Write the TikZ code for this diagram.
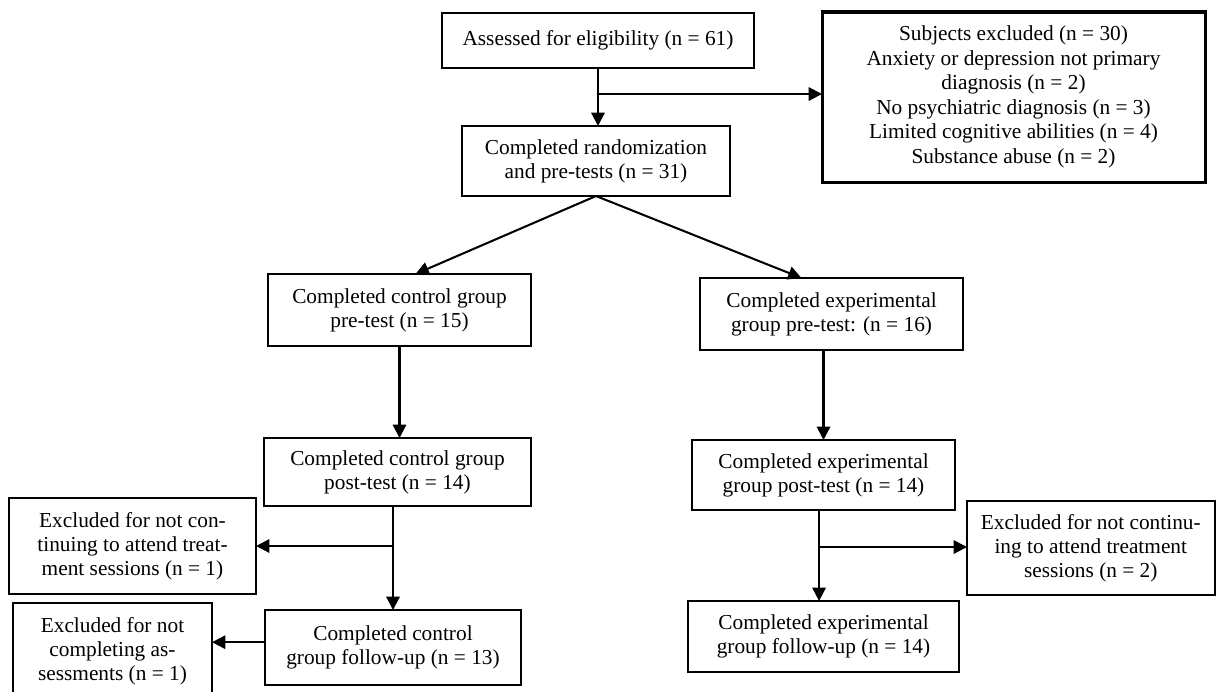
\documentclass[tikz,border=0pt]{standalone}
\usepackage{fontspec}
\setmainfont{Liberation Serif}
\usetikzlibrary{arrows.meta,calc}
\begin{document}
\begin{tikzpicture}[x=0.5625pt,y=-0.5625pt,
  box/.style={draw, line width=1.1pt, inner sep=0pt, outer sep=0pt, align=center,
    font=\fontsize{12pt}{13.4pt}\selectfont},
  thickbox/.style={box, line width=1.7pt, font=\fontsize{12pt}{13.8pt}\selectfont},
  arr/.style={-{Triangle[length=7.5pt,width=7.5pt]}, line width=1.15pt}]
\useasboundingbox (0,0) rectangle (1216,691);
\clip (0,0) rectangle (1216,691);

\node[box, minimum width=175.5pt, minimum height=30.94pt] (a) at (598,40.5) {Assessed for eligibility (n = 61)};
\node[box, minimum width=150.75pt, minimum height=39.38pt] (b) at (596,161) {Completed randomization\\and pre-tests (n = 31)};
\node[thickbox, minimum width=215.44pt, minimum height=95.63pt] (ex) at (1013.5,97) {Subjects excluded (n = 30)\\Anxiety or depression not primary\\diagnosis (n = 2)\\No psychiatric diagnosis (n = 3)\\Limited cognitive abilities (n = 4)\\Substance abuse (n = 2)};
\node[box, minimum width=147.94pt, minimum height=40.5pt] (c) at (399.5,310) {Completed control group\\pre-test (n = 15)};
\node[box, minimum width=147.94pt, minimum height=40.5pt] (d) at (831.5,314) {Completed experimental\\group pre-test: (n = 16)};
\node[box, minimum width=150.19pt, minimum height=38.25pt] (e) at (397.5,472) {Completed control group\\post-test (n = 14)};
\node[box, minimum width=147.94pt, minimum height=39.38pt] (f) at (823.5,475) {Completed experimental\\group post-test (n = 14)};
\node[box, minimum width=138.94pt, minimum height=54pt] (h) at (132.5,546) {Excluded for not con-\\tinuing to attend treat-\\ment sessions (n = 1)};
\node[box, minimum width=139.22pt, minimum height=52.88pt] (x3) at (1090.75,548) {Excluded for not continu-\\ing to attend treatment\\sessions (n = 2)};
\node[box, minimum width=144pt, minimum height=42.19pt] (g) at (393,647.5) {Completed control\\group follow-up (n = 13)};
\node[box, minimum width=152.44pt, minimum height=39.94pt] (k) at (823.5,636.5) {Completed experimental\\group follow-up (n = 14)};
\node[box, minimum width=111.94pt, minimum height=54.56pt] (i) at (112.5,651.5) {Excluded for not\\completing as-\\sessments (n = 1)};

% top
\draw[arr] (a.south) -- (a.south |- b.north);
\path (a.south) ++(0,26) coordinate (j1);
\draw[arr] (j1) -- (j1 -| ex.west);
% split
\draw[arr] (b.south) -- ([xshift=9pt]c.north);
\draw[arr] (b.south) -- ([xshift=-16.9pt]d.north);
% control branch
\draw[arr] (c.south) -- (c.south |- e.north);
\draw[arr] (e.south -| g.north) -- (g.north);
\path (e.south -| g.north) ++(0,40) coordinate (j2);
\draw[arr] (j2) -- (j2 -| h.east);
\draw[arr] ([yshift=3pt]g.west) -- ([yshift=3pt]g.west -| i.east);
% experimental branch
\draw[arr] (d.south -| f.north) -- (f.north);
\draw[arr] ([xshift=-2.5pt]f.south) -- ([xshift=-2.5pt]k.north);
\path ([xshift=-2.5pt]f.south) ++(0,37) coordinate (j3);
\draw[arr] (j3) -- (j3 -| x3.west);
\end{tikzpicture}
\end{document}
